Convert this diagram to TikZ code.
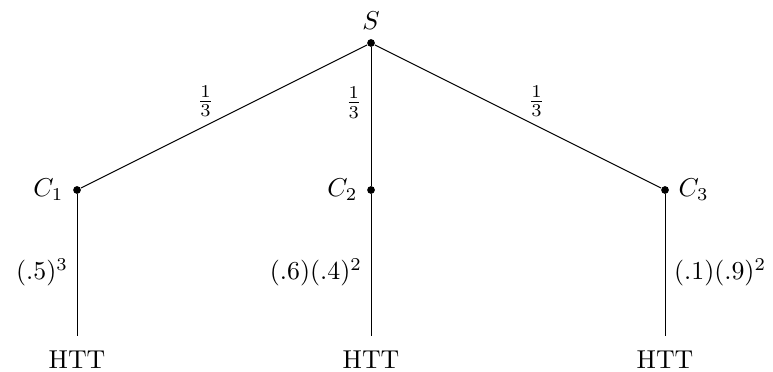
\documentclass[tikz,border=0pt]{standalone}
\usepackage{amsmath,amssymb}
\usetikzlibrary{positioning}

\begin{document}
\begin{tikzpicture}[dot/.style={circle,fill,inner sep=0pt,minimum size=3pt},leaf/.style={inner sep=3.33pt,outer sep=2.5pt}]
\useasboundingbox (-5.048,-4.463) rectangle (5.469,0.585);
\node[dot,label=above:{$S$}] (root) at (0,0) {};
\node[dot,label=left:{$C_1$}] (coinA) at (-4,-2) {};
\node[dot,label=left:{$C_2$}] (coinB) at (0,-2) {};
\node[dot,label=right:{$C_3$}] (coinC) at (4,-2) {};
\node[leaf] (flipA) at (-4,-4.31) {HTT};
\node[leaf] (flipB) at (0,-4.31) {HTT};
\node[leaf] (flipC) at (4,-4.31) {HTT};
\draw (root)-- node[pos=0.565,above]{$\frac{1}{3}$} (coinA);
\draw (root)-- node[pos=0.4,left]{$\frac{1}{3}$} (coinB);
\draw (root)-- node[pos=0.565,above]{$\frac{1}{3}$} (coinC);
\draw (coinA)-- node[pos=0.55,left]{$(.5)^3$} (flipA);
\draw (coinB)-- node[pos=0.55,left]{$(.6)(.4)^2$} (flipB);
\draw (coinC)-- node[pos=0.55,right]{$(.1)(.9)^2$} (flipC);
\end{tikzpicture}
\end{document}
